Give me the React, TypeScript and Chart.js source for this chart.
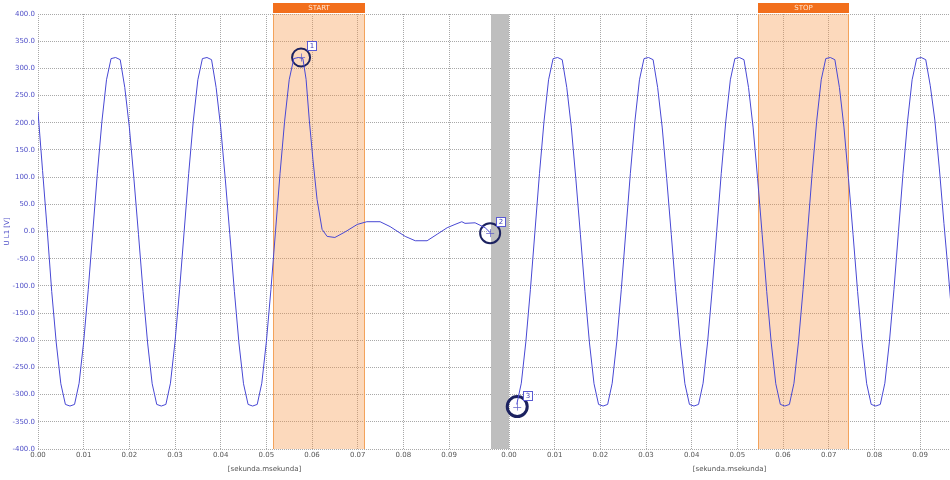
import { useEffect, useRef } from "react";
import { Chart, registerables } from "chart.js";

Chart.register(...registerables);

// ---- axis data ----
const X_TICKS_LOCAL = [0, 0.01, 0.02, 0.03, 0.04, 0.05, 0.06, 0.07, 0.08, 0.09];
const Y_MIN = -400;
const Y_MAX = 400;
const Y_STEP = 50;
const X_TITLE = "[sekunda.msekunda]";
const Y_TITLE = "U L1 [V]";

// continuous axis mapping of the two recorded segments
const GAP_START = 0.09919; // end of segment 1 (grey separator begins)
const SEG2_OFFSET = 0.10313; // segment 2 "0.00" position
const X_MAX = 0.19969;

// ---- segment 1 (regular samples) ----
const SEG1_T0 = 0;
const SEG1_DT = 0.001;
const SEG1_VOLT = [
  220, 112, 5, -110, -205, -280, -318, -321, -318, -279, -203, -107,
  0, 107, 203, 279, 318, 320, 316, 265, 192, 97, -5, -110, -205, -280, -318, -321, -318, -279, -203, -107,
  0, 107, 203, 279, 318, 320, 316, 265, 192, 97, -5, -110, -205, -280, -318, -321, -318, -279, -203, -107,
  0, 107, 203, 279, 318, 320, 318,
];
// ---- segment 1 (voltage collapse after the START event) ----
const DECAY_TIME = [
  0.0587, 0.0594, 0.0602, 0.0611, 0.0622, 0.0633, 0.065, 0.0672, 0.0699, 0.072, 0.0749, 0.0771,
  0.0804, 0.0826, 0.0852, 0.0874, 0.0896, 0.0913, 0.0928, 0.0935, 0.0957, 0.0979, 0.099,
];
const DECAY_VOLT = [
  280, 205, 132, 59, 4, -9, -11, -1, 13, 18, 18, 9, -9, -17, -17, -5, 7, 13, 18, 15, 16, 7, -2,
];

// ---- segment 2 ----
const SEG2_T0 = 0.0017;
const SEG2_DT = 0.000995;
const SEG2_VOLT = [
  -318, -279, -203, -107, 0, 107, 203, 279, 318, 320, 316, 265, 192, 97, -5, -110, -205, -280, -318, -321,
  -318, -279, -203, -107, 0, 107, 203, 279, 318, 320, 316, 265, 192, 97, -5, -110, -205, -280, -318, -321,
  -318, -279, -203, -107, 0, 107, 203, 279, 318, 320, 316, 265, 192, 97, -5, -110, -205, -280, -318, -321,
  -318, -279, -203, -107, 0, 107, 203, 279, 318, 320, 316, 265, 192, 97, -5, -110, -205, -280, -318, -321,
  -318, -279, -203, -107, 0, 107, 203, 279, 318, 320, 316, 268, 205, 115, 15, -80, -180,
];

// ---- event windows (local segment time) ----
const BAND_LABELS = ["START", "STOP"];
const BAND_SEGMENT = [1, 2];
const BAND_FROM = [0.05146, 0.05452];
const BAND_TO = [0.0716, 0.07445];

// ---- cursors ----
const MARKER_LABELS = ["1", "2", "3"];
const MARKER_SEGMENT = [1, 1, 2];
const MARKER_TIME = [0.0576, 0.099, 0.0018];
const MARKER_VOLT = [320, -3, -322];

const toAxis = (seg: number, t: number) => (seg === 2 ? SEG2_OFFSET + t : t);

const FONT = "'DejaVu Sans', sans-serif";

export default function App() {
  const ref = useRef<HTMLCanvasElement | null>(null);

  useEffect(() => {
    document.body.style.margin = "0";
    const canvas = ref.current;
    if (!canvas) return;

    const seg1 = [
      ...SEG1_VOLT.map((v, i) => ({ x: SEG1_T0 + i * SEG1_DT, y: v })),
      ...DECAY_VOLT.map((v, i) => ({ x: DECAY_TIME[i], y: v })),
    ];
    const seg2 = SEG2_VOLT.map((v, i) => ({ x: toAxis(2, SEG2_T0 + i * SEG2_DT), y: v }));
    const markers = MARKER_TIME.map((t, i) => ({ x: toAxis(MARKER_SEGMENT[i], t), y: MARKER_VOLT[i] }));

    const tickValues = [
      ...X_TICKS_LOCAL.map((t) => toAxis(1, t)),
      ...X_TICKS_LOCAL.map((t) => toAxis(2, t)),
    ];
    const tickLabels = [...X_TICKS_LOCAL, ...X_TICKS_LOCAL].map((t) => t.toFixed(2));

    const overlay = {
      id: "overlay",
      beforeDatasetsDraw(chart: any) {
        const { ctx, chartArea: a, scales } = chart;
        const x = scales.x;
        ctx.save();
        BAND_LABELS.forEach((label, i) => {
          const p0 = Math.round(x.getPixelForValue(toAxis(BAND_SEGMENT[i], BAND_FROM[i])));
          const p1 = Math.round(x.getPixelForValue(toAxis(BAND_SEGMENT[i], BAND_TO[i])));
          ctx.fillStyle = "rgba(247,150,70,0.36)";
          ctx.fillRect(p0, a.top, p1 - p0, a.bottom - a.top);
          ctx.strokeStyle = "#f3a35c";
          ctx.lineWidth = 1;
          ctx.beginPath();
          ctx.moveTo(p0 + 0.5, a.top);
          ctx.lineTo(p0 + 0.5, a.bottom);
          ctx.moveTo(p1 - 0.5, a.top);
          ctx.lineTo(p1 - 0.5, a.bottom);
          ctx.stroke();
          // header tab
          ctx.fillStyle = "#f26f1c";
          ctx.fillRect(p0, 3, p1 - p0, 10);
          ctx.fillStyle = "#ffe6d0";
          ctx.font = `7px ${FONT}`;
          ctx.textAlign = "center";
          ctx.textBaseline = "middle";
          ctx.fillText(label, (p0 + p1) / 2, 8.5);
        });
        // grey separator between the two records
        const g0 = Math.round(x.getPixelForValue(GAP_START));
        const g1 = Math.round(x.getPixelForValue(SEG2_OFFSET));
        ctx.fillStyle = "#bebebe";
        ctx.fillRect(g0, a.top, g1 - g0, a.bottom - a.top);
        ctx.restore();
      },
      afterDatasetsDraw(chart: any) {
        const { ctx, scales } = chart;
        const x = scales.x;
        const y = scales.y;
        ctx.save();
        MARKER_LABELS.forEach((label, i) => {
          const px = x.getPixelForValue(toAxis(MARKER_SEGMENT[i], MARKER_TIME[i]));
          const py = y.getPixelForValue(MARKER_VOLT[i]);
          ctx.strokeStyle = "rgba(90,90,200,0.7)";
          ctx.lineWidth = 1;
          ctx.beginPath();
          ctx.moveTo(px - 4, Math.round(py) + 0.5);
          ctx.lineTo(px + 4, Math.round(py) + 0.5);
          ctx.moveTo(Math.round(px) + 0.5, py - 4);
          ctx.lineTo(Math.round(px) + 0.5, py + 4);
          ctx.stroke();
          const bx = Math.round(px + 6);
          const by = Math.round(py - 16);
          ctx.fillStyle = "#ffffff";
          ctx.fillRect(bx, by, 9, 9);
          ctx.strokeStyle = "#5a5ad2";
          ctx.strokeRect(bx + 0.5, by + 0.5, 9, 9);
          ctx.fillStyle = "#3b3bb8";
          ctx.font = `7px ${FONT}`;
          ctx.textAlign = "center";
          ctx.textBaseline = "middle";
          ctx.fillText(label, bx + 5, by + 5.5);
        });
        ctx.restore();
      },
      afterDraw(chart: any) {
        const { ctx, scales } = chart;
        const x = scales.x;
        ctx.save();
        ctx.fillStyle = "#555555";
        ctx.font = `7px ${FONT}`;
        ctx.textAlign = "center";
        ctx.textBaseline = "middle";
        const c1 = (x.getPixelForValue(0) + x.getPixelForValue(GAP_START)) / 2;
        const c2 = (x.getPixelForValue(SEG2_OFFSET) + x.getPixelForValue(X_MAX)) / 2;
        ctx.fillText(X_TITLE, c1, 469);
        ctx.fillText(X_TITLE, c2, 469);
        ctx.restore();
      },
    };

    const gridColor = "#a8a8a8";

    const chart = new Chart(canvas, {
      type: "line",
      data: {
        datasets: [
          {
            data: seg1,
            borderColor: "#4848d4",
            borderWidth: 1,
            pointRadius: 0,
            tension: 0,
            fill: false,
          },
          {
            data: seg2,
            borderColor: "#4848d4",
            borderWidth: 1,
            pointRadius: 0,
            tension: 0,
            fill: false,
          },
          {
            data: markers,
            showLine: false,
            pointRadius: [9, 10, 10],
            pointHoverRadius: [9, 10, 10],
            pointBorderWidth: [2, 2, 3],
            pointBorderColor: "#1c2260",
            pointBackgroundColor: "rgba(0,0,0,0)",
          },
        ],
      },
      options: {
        responsive: false,
        animation: false,
        events: [],
        layout: { autoPadding: false, padding: { top: 14, right: 0, left: 0, bottom: 0 } },
        plugins: {
          legend: { display: false },
          tooltip: { enabled: false },
        },
        scales: {
          x: {
            type: "linear",
            min: 0,
            max: X_MAX,
            afterBuildTicks: (scale: any) => {
              scale.ticks = tickValues.map((v) => ({ value: v }));
            },
            afterFit: (scale: any) => {
              scale.height = 31;
              scale.paddingLeft = 0;
              scale.paddingRight = 0;
            },
            ticks: {
              autoSkip: false,
              maxRotation: 0,
              padding: 2,
              color: "#555555",
              font: { family: FONT, size: 7 },
              callback: (_v: any, i: number) => tickLabels[i],
            },
            grid: { color: gridColor, lineWidth: 1, drawTicks: false },
            border: { display: false, dash: [1, 1] },
          },
          y: {
            min: Y_MIN,
            max: Y_MAX,
            afterFit: (scale: any) => {
              scale.width = 38;
            },
            ticks: {
              stepSize: Y_STEP,
              padding: 3,
              color: "#5050c8",
              font: { family: FONT, size: 7 },
              callback: (v: any) => Number(v).toFixed(1),
            },
            title: {
              display: true,
              text: Y_TITLE,
              color: "#5050c8",
              font: { family: FONT, size: 7 },
              padding: { top: 3, bottom: 0 },
            },
            grid: { color: gridColor, lineWidth: 1, drawTicks: false },
            border: { display: false, dash: [1, 1] },
          },
        },
      },
      plugins: [overlay],
    } as any);

    return () => chart.destroy();
  }, []);

  return (
    <div style={{ width: 950, height: 480 }}>
      <canvas ref={ref} width={950} height={480} style={{ display: "block" }} />
    </div>
  );
}
